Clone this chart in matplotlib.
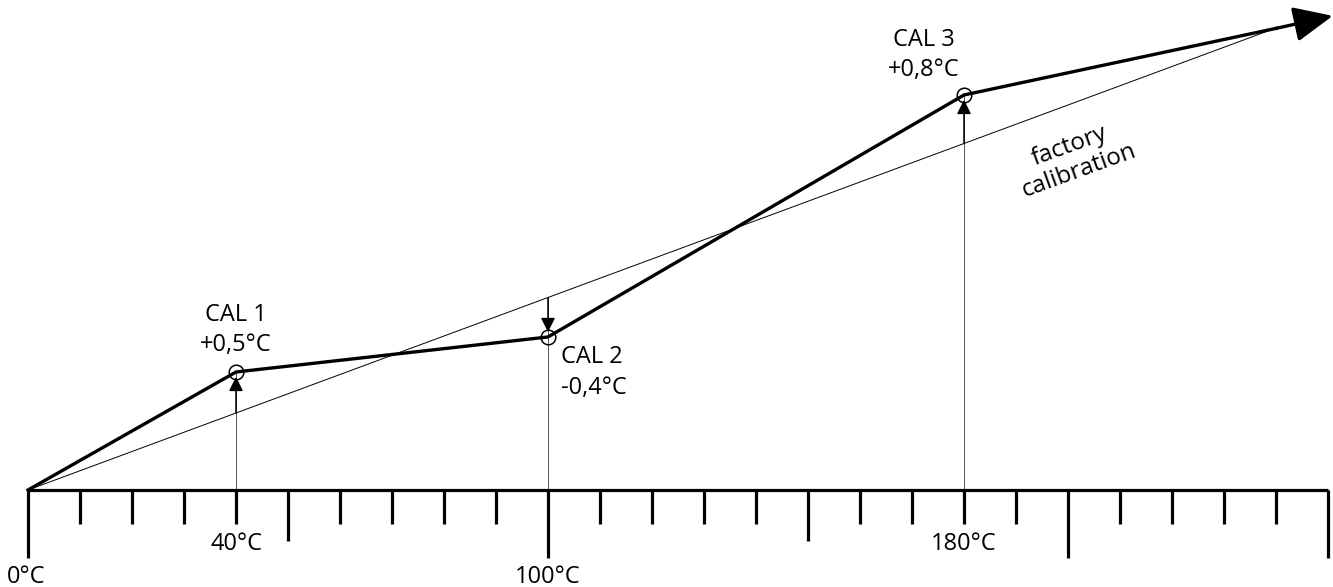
import matplotlib.pyplot as plt

plt.rcParams['font.family'] = ['Open Sans', 'DejaVu Sans']

# temperatures (°C) on the scale and the calibrated curve
cal_temps = [40, 100, 180]
cal_values = [61.3, 79.5, 205.2]          # curve height at each CAL point
cal_names = ['CAL 1', 'CAL 2', 'CAL 3']
cal_offsets = ['+0,5°C', '-0,4°C', '+0,8°C']

curve_temps = [0, 40, 100, 180, 240]
curve_values = [0, 61.3, 79.5, 205.2, 239.8]
arrow_tip = (250.9, 246.3)

factory_temps = [0, 240]
factory_values = [0, 240]

tick_temps = list(range(0, 251, 10))
long_ticks = [0, 100, 200, 250]
mid_ticks = [50, 150]
label_temps = [0, 40, 100, 180]
label_texts = ['0°C', '40°C', '100°C', '180°C']

fig = plt.figure(figsize=(13.33, 5.87), dpi=100)
ax = fig.add_axes([0, 0, 1, 1])
ax.set_xlim(-28 / 5.2, 1305 / 5.2)
ax.set_ylim(-97 / 1.925, 490 / 1.925)
ax.axis('off')

# scale
ax.plot([0, 250], [0, 0], color='black', lw=2.3, solid_capstyle='butt')
tick_ends = {}
for t in tick_temps:
    if t in long_ticks:
        end = -35.3
    elif t in mid_ticks:
        end = -26.5
    else:
        end = -17.7
    tick_ends[t] = end
    ax.plot([t, t], [0, end], color='black', lw=2.3, solid_capstyle='butt')

for t, txt in zip(label_temps, label_texts):
    ax.annotate(txt, xy=(t, tick_ends[t]), xytext=(-1 if t == 0 else 0, -14), textcoords='offset points',
                ha='center', va='center', fontsize=17)

# factory calibration
ax.plot(factory_temps, factory_values, color='black', lw=0.7)
ax.text(201.2, 172, 'factory\ncalibration', rotation=20, rotation_mode='anchor',
        ha='center', va='center', fontsize=17.5, linespacing=1.1)

# vertical guide lines and offset arrows
for t, v in zip(cal_temps, cal_values):
    ax.plot([t, t], [0, max(t, v)], color='#555555', lw=0.7, zorder=1)
    ax.annotate('', xy=(t, v), xytext=(t, t),
                arrowprops=dict(arrowstyle='-|>,head_length=1,head_width=0.5', mutation_scale=8.5,
                                color='black', lw=1.1, shrinkA=0, shrinkB=3.5))

# calibrated curve
ax.plot(curve_temps, curve_values, color='black', lw=2.4, solid_joinstyle='miter', zorder=3)
ax.annotate('', xy=arrow_tip, xytext=(curve_temps[-1], curve_values[-1]),
            arrowprops=dict(arrowstyle='-|>,head_length=1,head_width=0.45', mutation_scale=24,
                            color='black', lw=2.4, shrinkA=0, shrinkB=0), zorder=3)
ax.plot(cal_temps, cal_values, 'o', ms=10.5, mfc='none', mec='black', mew=1.1, zorder=4)

# labels
label_pos = [((0, 30), 'center'), ((9.4, -25.6), 'left'), ((-29, 29), 'center')]
for t, v, name, off, (xy_off, ha) in zip(cal_temps, cal_values, cal_names, cal_offsets, label_pos):
    ax.annotate(name + '\n' + off, xy=(t, v), xytext=xy_off, textcoords='offset points',
                ha=ha, va='center', fontsize=17, linespacing=1.35,
                multialignment='center' if ha == 'center' else 'left')

fig.savefig('out.png', dpi=100)
